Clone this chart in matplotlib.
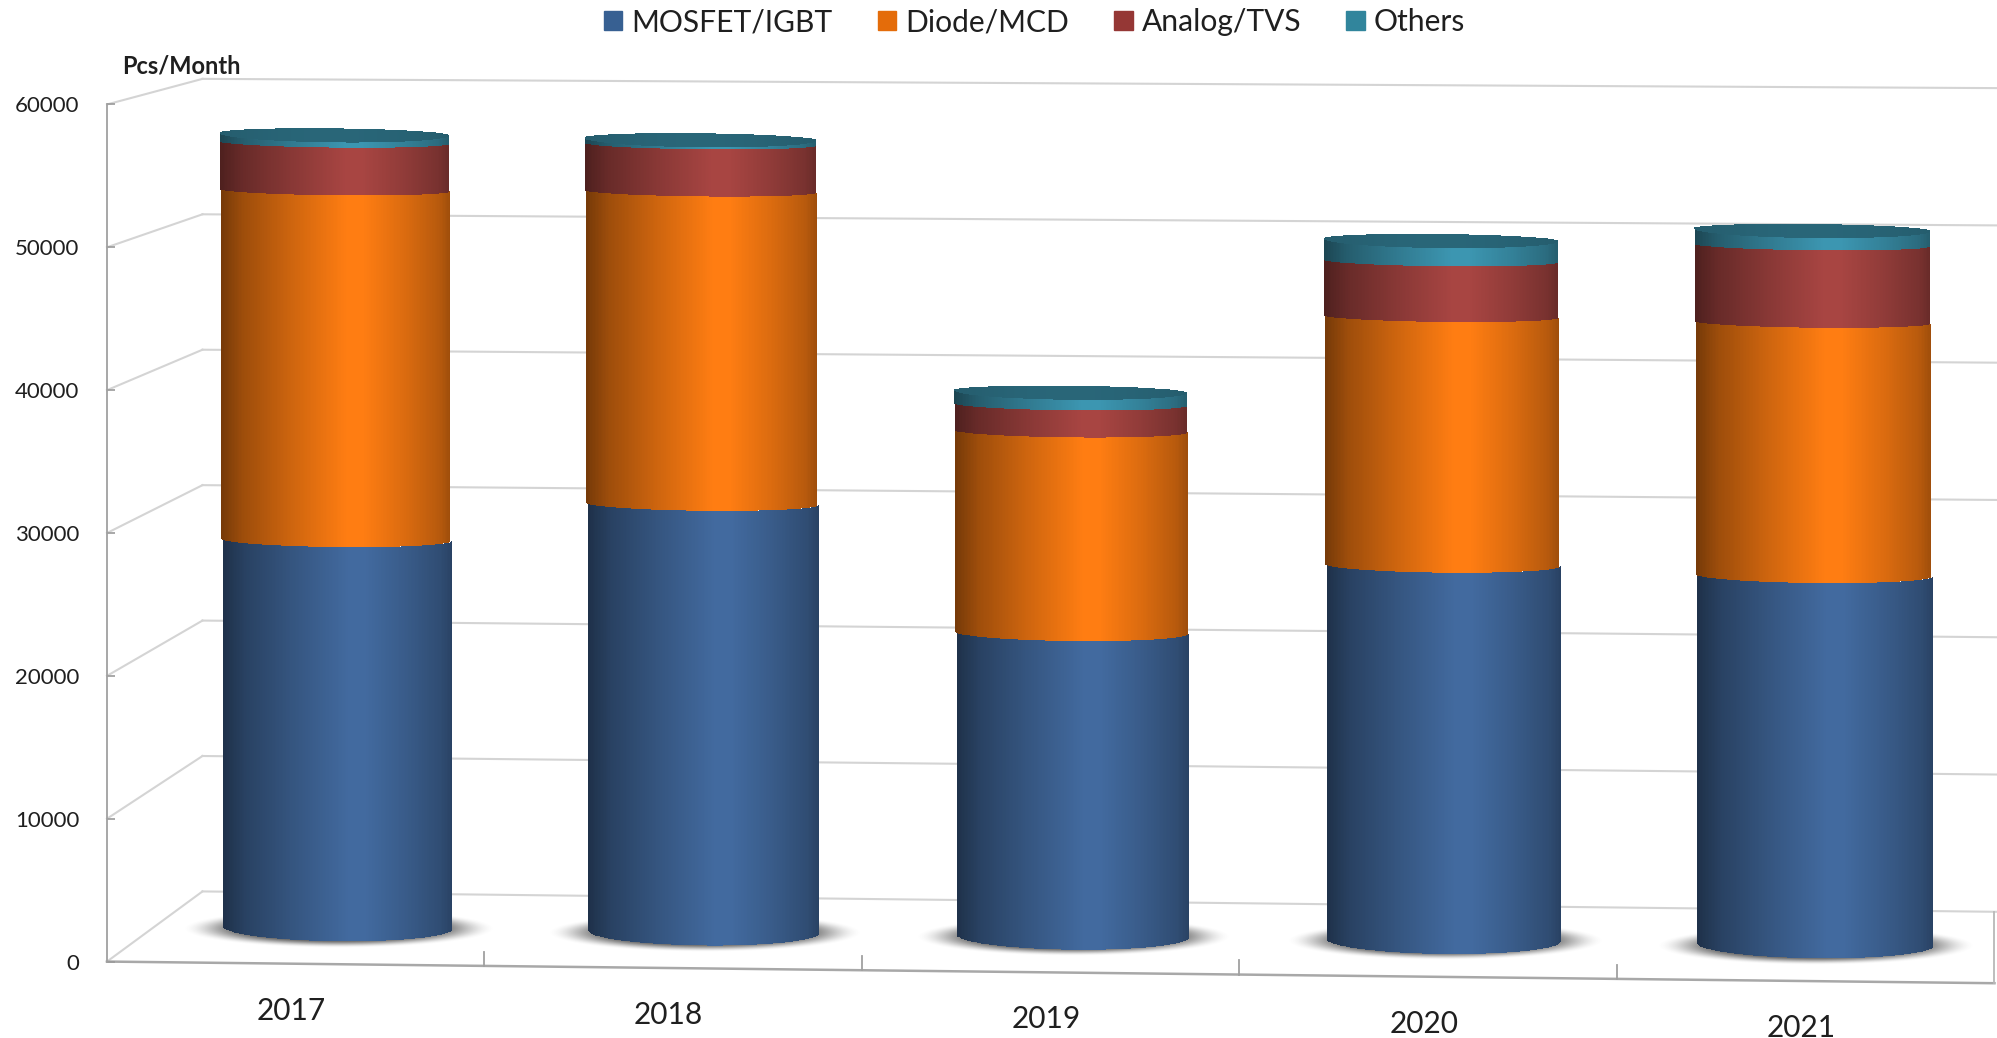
import matplotlib
matplotlib.use("Agg")
import matplotlib.pyplot as plt
from matplotlib.patches import Rectangle
from matplotlib.colors import to_rgb
import numpy as np

plt.rcParams['font.family'] = ['Lato', 'DejaVu Sans']

##Data
years = ["2017", "2018", "2019", "2020", "2021"]
mosfet = [27890, 30770, 21810, 26970, 26540]
diode = [25140, 22480, 14490, 17890, 18210]
analog = [3430, 3390, 1930, 3990, 5550]
others = [600, 370, 920, 1520, 1100]
series_names = ["MOSFET/IGBT", "Diode/MCD", "Analog/TVS", "Others"]
series_vals = [mosfet, diode, analog, others]
series_cols = ["#426A9F", "#FF7D12", "#A84542", "#3C96B1"]
legend_cols = ["#376092", "#E46C0A", "#953735", "#31859C"]
yticks = [0, 10000, 20000, 30000, 40000, 50000, 60000]

##Layout, picture pixels
W, H = 1997, 1038
SCALE = 1.2736
ax_left, ax_right = 84 * SCALE, 1566 * SCALE
ax_top, ax_bottom = 82 * SCALE, 755 * SCALE
px_per_val = 672 / 60000  # shrunken picture px per unit on the front axis

floor_slope = -303      # front floor drop, value units per category
bar_scale = 0.973       # bars stand further back than the front axis
bar_lift = 2589
bar_offset = [0.114, 0.084, 0.061, 0.044, 0.028]
wall_x = 0.253


def bar_center(i):
    return i + 0.5 + bar_offset[i]


def bar_halfwidth(i):
    return 0.304 + 0.002 * i


def rim_depth(v):
    t = 1 - min(v, 57000) / 57000
    return (4 + 7 * t * t) / px_per_val


def bar_y(v, cx):
    return v * bar_scale + bar_lift + floor_slope * cx


grad_u = [0, 0.1, 0.3, 0.55, 0.62, 0.8, 0.95, 1]
grad_k = [0.46, 0.62, 0.8, 1.0, 1.0, 0.86, 0.72, 0.62]


def shade(col, n):
    u = (np.arange(n) + 0.5) / n
    k = np.interp(u, grad_u, grad_k)
    return np.outer(k, to_rgb(col))


fig = plt.figure(figsize=(W / 100, H / 100), dpi=100)
ax = fig.add_axes([ax_left / W, 1 - ax_bottom / H, (ax_right - ax_left) / W, (ax_bottom - ax_top) / H])
xlim = (0, 5)
ylim = (0, 60000)

##Walls and floor
wall_col = "#d4d4d4"
for v in yticks:
    yl = 4910 + v * 0.948
    yr = 3482 + v * 0.961
    ax.plot([wall_x, 5.01], [yl, yr], color=wall_col, lw=1.5, zorder=1, clip_on=False)
    ax.plot([0, wall_x], [v, yl], color=wall_col, lw=1.5, zorder=1, clip_on=False)

ax.plot([0, 5], [0, 5 * floor_slope], color="#a8a8a8", lw=1.8, zorder=1, clip_on=False)
ax.plot([5, 5], [5 * floor_slope, 3482], color="#b8b8b8", lw=1.3, zorder=1, clip_on=False)
for c in range(1, 5):
    ax.plot([c, c], [c * floor_slope, c * floor_slope + 1000], color="#a0a0a0", lw=1.3, zorder=1, clip_on=False)

##Cylinders
for i, year in enumerate(years):
    cx = bar_center(i)
    hw = bar_halfwidth(i)

    # shadow on the floor
    sx = np.linspace(-1, 1, 300)
    sy = np.linspace(-1, 1, 120)
    gx, gy = np.meshgrid(sx, sy)
    rr = np.sqrt(gx ** 2 + gy ** 2)
    a = np.clip((1 - rr) / 0.45, 0, 1)
    img = np.zeros((120, 300, 4))
    img[..., :3] = 0.3
    img[..., 3] = 0.95 * a * a * (3 - 2 * a)
    y0 = bar_y(0, cx) - 1 / px_per_val
    ry = 15 / px_per_val
    rx = hw + 33 / 296
    ax.imshow(img, extent=[cx - rx, cx + rx, y0 - ry, y0 + ry], origin="lower", aspect="auto",
              zorder=2, clip_on=False, interpolation="bilinear")

    bottom = 0
    nu = 160
    xs = np.linspace(-1, 1, nu + 1)
    for vals, col in zip(series_vals, series_cols):
        top = bottom + vals[i]
        # one lean per segment, so the jog falls on a colour change
        lean = -3.5 / 296 * (bottom + top) / 2 / 57000
        X = np.empty((2, nu + 1))
        Y = np.empty((2, nu + 1))
        for r, v in enumerate([bottom, top]):
            X[r] = cx + lean + hw * xs
            tilt = floor_slope * hw * xs
            Y[r] = bar_y(v, cx) + tilt - rim_depth(v) * np.sqrt(1 - xs ** 2)
        m = ax.pcolormesh(X, Y, shade(col, nu)[np.newaxis, :, :], shading="flat", zorder=3,
                          antialiased=False)
        m.set_clip_on(False)
        bottom = top

    # top face
    lean = -3.5 / 296 * bottom / 57000
    tilt = floor_slope * hw * xs
    yc = bar_y(bottom, cx) + tilt
    up = yc + 4.5 / px_per_val * np.sqrt(1 - xs ** 2)
    dn = yc - 6.5 / px_per_val * np.sqrt(1 - xs ** 2)
    X = np.vstack([cx + lean + hw * xs, cx + lean + hw * xs])
    Y = np.vstack([dn, up])
    k = 0.62 + 0.06 * np.sin(np.linspace(0, np.pi, nu))
    face = np.outer(k, to_rgb(series_cols[3]))
    m = ax.pcolormesh(X, Y, face[np.newaxis, :, :], shading="flat", zorder=4, antialiased=False)
    m.set_clip_on(False)

    # category label
    lab_x = i + 0.5 - 0.012
    ax.text(lab_x, floor_slope * lab_x - 3280, year, ha="center", va="center", fontsize=21.5,
            color="#1f1f1f", zorder=5, clip_on=False)

##Axes
ax.set_xlim(*xlim)
ax.set_ylim(*ylim)
ax.set_xticks([])
ax.set_yticks(yticks)
ax.set_yticklabels([str(v) for v in yticks])
ax.tick_params(axis="y", direction="in", length=6, width=1.2, color="#9a9a9a", labelsize=16,
               labelcolor="#1f1f1f", pad=20)
for name, sp in ax.spines.items():
    sp.set_visible(name == "left")
ax.spines["left"].set_color("#a0a0a0")
ax.spines["left"].set_linewidth(1.3)
ax.patch.set_alpha(0)

fig.text(122 / W, 1 - 66 / H, "Pcs/Month", fontsize=17, fontweight="bold", color="#1f1f1f",
         ha="left", va="center")

handles = [Rectangle((0, 0), 1, 1, color=c) for c in legend_cols]
fig.legend(handles, series_names, loc="upper center", bbox_to_anchor=(0.518, 1.018), ncol=4, frameon=False,
           fontsize=21.6, handlelength=0.62, handleheight=0.62, handletextpad=0.3, columnspacing=1.5,
           labelcolor="#1f1f1f")

fig.savefig("out.png", dpi=100)
